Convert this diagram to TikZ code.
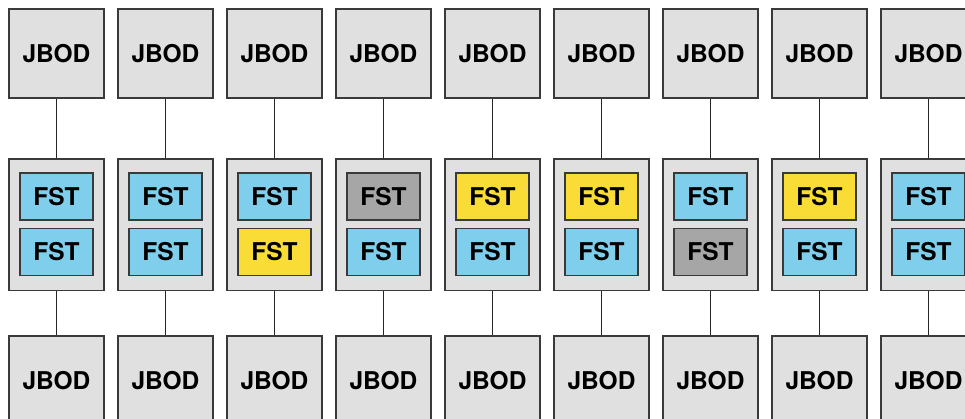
\documentclass[tikz,border=0pt]{standalone}
\usepackage{fontspec}
\setmainfont{TeX Gyre Heros}
\usepackage{xcolor}
\usepackage{tikz}
\definecolor{edge}{HTML}{3A3A3A}
\definecolor{shelfgray}{HTML}{E0E0E0}
\definecolor{fstblue}{HTML}{7FCEEB}
\definecolor{fstyellow}{HTML}{F9DC35}
\definecolor{fstgray}{HTML}{A6A6A6}

\begin{document}
\begin{tikzpicture}[x=1pt,y=-1pt, font=\fontsize{24.5}{28}\selectfont\bfseries,
  jbod/.style={draw=edge, line width=1.4pt, fill=shelfgray, minimum width=95pt, minimum height=89pt, inner sep=0pt},
  host/.style={draw=edge, line width=1.4pt, fill=shelfgray, minimum width=95pt, minimum height=131pt, inner sep=0pt},
  fst/.style={draw=edge, line width=1.4pt, minimum width=73pt, minimum height=47pt, inner sep=0pt},
  link/.style={draw=black!85, line width=1.7pt}]
\useasboundingbox (0,0) rectangle (965,419);
\clip (0,0) rectangle (965,419);
\foreach \col/\upper/\lower in {
    0/fstblue/fstblue,1/fstblue/fstblue,2/fstblue/fstyellow,
    3/fstgray/fstblue,4/fstyellow/fstblue,5/fstyellow/fstblue,
    6/fstblue/fstgray,7/fstyellow/fstblue,8/fstblue/fstblue}{
  \pgfmathsetmacro{\xc}{56.5+109*\col}
  \node[jbod] (top\col) at (\xc,53.5) {JBOD};
  \node[host] (host\col) at (\xc,224.7) {};
  \node[fst, fill=\upper] (fsta\col) at (\xc,196.4) {FST};
  \node[fst, fill=\lower] (fstb\col) at (\xc,252) {FST};
  \node[jbod] (bot\col) at (\xc,380.5) {JBOD};
  \draw[link] (top\col) -- (host\col);
  \draw[link] (host\col) -- (bot\col);
}
\end{tikzpicture}
\end{document}
